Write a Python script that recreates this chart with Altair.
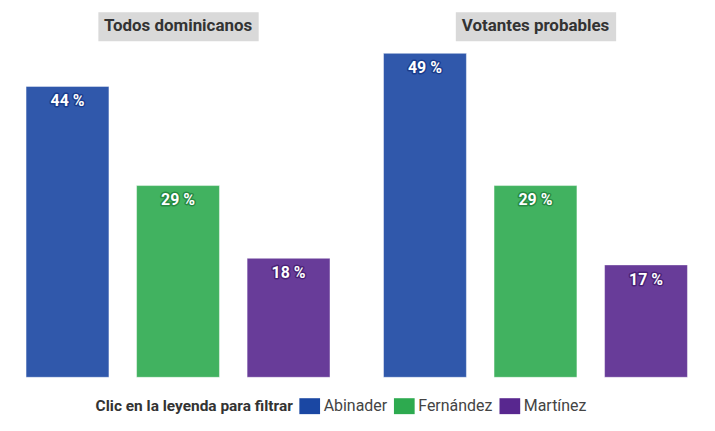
import altair as alt
import pandas as pd

groups = ["Todos dominicanos"] * 3 + ["Votantes probables"] * 3
candidates = ["Abinader", "Fernández", "Martínez", "Abinader", "Fernández", "Martínez"]
values = [44, 29, 18, 49, 29, 17]
cand_order = ["Abinader", "Fernández", "Martínez"]
colors = ["#1A47A3", "#2DAA4F", "#58278F"]
dark = ["#0B2A78", "#15702F", "#35105F"]

df = pd.DataFrame({"grupo": groups, "candidato": candidates, "valor": values})
df["etiqueta"] = df["valor"].astype(str) + " %"

FONT = "Roboto"

sel = alt.selection_point(fields=["candidato"], bind="legend", name="filtro")

color = alt.Color(
    "candidato:N",
    scale=alt.Scale(domain=cand_order, range=colors),
    legend=alt.Legend(title="Clic en la leyenda para filtrar", orient="none",
                      legendX=84, legendY=388),
)


def panel(g, with_param):
    base = alt.Chart(df).transform_filter(alt.datum.grupo == g).encode(
        x=alt.X("candidato:N", axis=None, sort=cand_order,
                scale=alt.Scale(paddingInner=0.25, paddingOuter=0.125)),
        y=alt.Y("valor:Q", axis=None, scale=alt.Scale(domain=[0, 50], nice=False)),
    )
    bars = base.mark_bar(stroke="white", strokeWidth=1, strokeOpacity=0.45).encode(
        color=color,
        opacity=alt.condition(sel, alt.value(0.9), alt.value(0.2)),
    )
    if with_param:
        bars = bars.add_params(sel)
    halo = base.mark_text(baseline="top", dy=7, font=FONT, fontSize=16, fontWeight="bold",
                          strokeWidth=3, strokeOpacity=0.6, strokeJoin="round").encode(
        text="etiqueta:N",
        stroke=alt.Stroke("candidato:N", scale=alt.Scale(domain=cand_order, range=dark), legend=None),
        fill=alt.Fill("candidato:N", scale=alt.Scale(domain=cand_order, range=dark), legend=None),
        opacity=alt.condition(sel, alt.value(1), alt.value(0.2)),
    )
    labels = base.mark_text(baseline="top", dy=7, font=FONT, fontSize=16, fontWeight="bold",
                            color="white").encode(
        text="etiqueta:N",
        opacity=alt.condition(sel, alt.value(1), alt.value(0.2)),
    )
    chart = alt.layer(bars, halo, labels).properties(width=333, height=332)
    title = alt.Chart(pd.DataFrame({"t": [g]})).mark_text(
        font=FONT, fontSize=17, fontWeight="bold", color="#333333",
        align="center", baseline="middle",
    ).encode(text="t:N").properties(
        width=161, height=29,
        view=alt.ViewBackground(fill="#D9D9D9", stroke="transparent"),
    )
    return alt.vconcat(title, chart, spacing=4, center=True)


out = alt.hconcat(
    panel("Todos dominicanos", True), panel("Votantes probables", False), spacing=24
).resolve_scale(fill="independent", stroke="independent").properties(
    padding={"left": 3, "top": 2, "right": 5, "bottom": 5}
).configure_view(stroke="transparent").configure_legend(
    direction="horizontal", titleOrient="left", titleLimit=400,
    titleFont=FONT, titleFontSize=15.5, titleFontWeight="bold", titleColor="#333333",
    labelFont=FONT, labelFontSize=16, labelColor="#444444",
    symbolType="M-1.3,-1H1.3V1H-1.3Z", symbolSize=256, symbolOpacity=1, symbolStrokeWidth=0,
    titlePadding=8, columnPadding=6, labelOffset=6,
)

out.save("out.html", embed_options={"renderer": "svg", "actions": False})
